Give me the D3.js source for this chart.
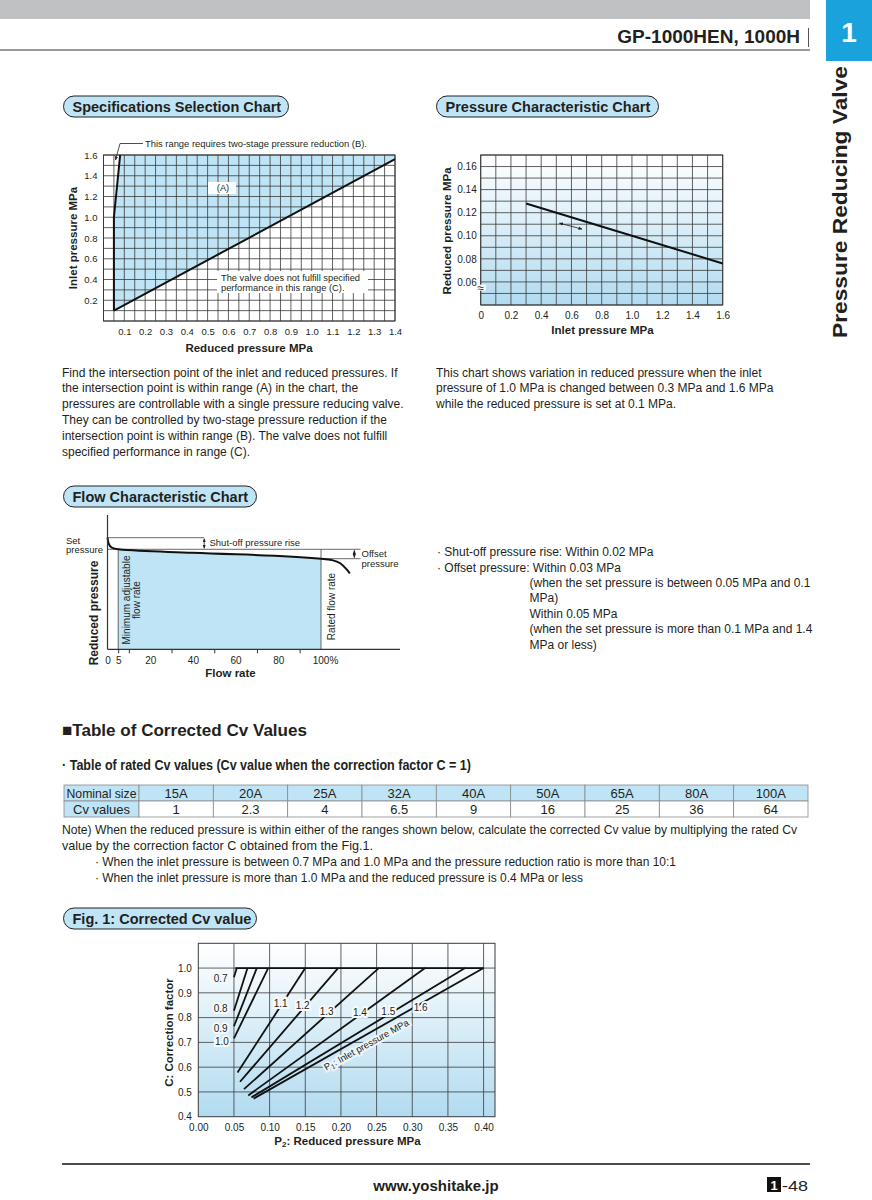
<!DOCTYPE html>
<html>
<head>
<meta charset="utf-8">
<script src="https://cdn.jsdelivr.net/npm/d3@7"></script>
<style>
  body { margin: 0; background: #fff; }
  svg { display: block; }
</style>
</head>
<body>
<div id="page"></div>
<script>
// ---- data ----

// Specifications Selection Chart (reduced pressure, inlet pressure in MPa)
const selXTicks = [0.1, 0.2, 0.3, 0.4, 0.5, 0.6, 0.7, 0.8, 0.9, 1.0, 1.1, 1.2, 1.3, 1.4];
const selYTicks = [0.2, 0.4, 0.6, 0.8, 1.0, 1.2, 1.4, 1.6];
const limitC = [[0.05, 0.1], [1.4, 1.56]];              // below this line: range (C)
const limitB = [[0.05, 0.1], [0.05, 1.0], [0.08, 1.6]]; // left of this line: range (B)

// Pressure Characteristic Chart
const pcXTicks = [0, 0.2, 0.4, 0.6, 0.8, 1.0, 1.2, 1.4, 1.6];
const pcYTicks = [0.06, 0.08, 0.10, 0.12, 0.14, 0.16];
const pcInlet = [0.3, 1.0, 1.6];
const pcReduced = [0.128, 0.100, 0.076];

// Flow Characteristic Chart (flow rate %, reduced pressure relative to set pressure)
const flowTicks = [0, 5, 20, 40, 60, 80, 100];
const flowMinorTicks = [5, 10, 30, 50, 70, 90];
const flowRate = [0, 0.5, 2, 5, 40, 100, 105, 109, 112, 113.5];
const flowPressure = [1.116, 1.06, 1.016, 1.0, 0.965, 0.906, 0.893, 0.86, 0.80, 0.76];

// Table of rated Cv values
const nominalSizes = ["15A", "20A", "25A", "32A", "40A", "50A", "65A", "80A", "100A"];
const cvValues = [1, 2.3, 4, 6.5, 9, 16, 25, 36, 64];

// Fig. 1 Corrected Cv value
const fig1XTicks = [0, 0.05, 0.10, 0.15, 0.20, 0.25, 0.30, 0.35, 0.40];
const fig1YTicks = [0.4, 0.5, 0.6, 0.7, 0.8, 0.9, 1.0];
const inletP1 = [0.7, 0.8, 0.9, 1.0, 1.1, 1.2, 1.3, 1.4, 1.5, 1.6];
const p2Start = [0.050, 0.050, 0.050, 0.050, 0.055, 0.0585, 0.064, 0.070, 0.0745, 0.0775];
const cStart = [0.963, 0.828, 0.765, 0.716, 0.578, 0.541, 0.511, 0.486, 0.478, 0.473];
const p2End = [0.054, 0.069, 0.082, 0.098, 0.150, 0.196, 0.253, 0.318, 0.374, 0.400];
const labelP2 = [0.0314, 0.0314, 0.0314, 0.033, 0.1155, 0.1464, 0.180, 0.2267, 0.2664, 0.3118];
const labelC = [0.9587, 0.8348, 0.7569, 0.7028, 0.8578, 0.8481, 0.8267, 0.8215, 0.8267, 0.840];

// ---- page ----
const W = 872, H = 1200;
const FONT = '"Liberation Sans", Arial, Helvetica, sans-serif';
const NARROW = '"Liberation Sans Narrow", "Arial Narrow", "Liberation Sans", sans-serif';
const INK = "#231f20";
const BLUE = "#bfe4f6";
const GRID = "#3a3a3a";

const svg = d3.select("#page").append("svg")
    .attr("width", W)
    .attr("height", H)
    .attr("font-family", FONT);

const defs = svg.append("defs");
const fade = defs.append("linearGradient").attr("id", "fade")
    .attr("x1", 0).attr("y1", 0).attr("x2", 0).attr("y2", 1);
fade.append("stop").attr("offset", "0%").attr("stop-color", "#ffffff");
fade.append("stop").attr("offset", "100%").attr("stop-color", "#b2dbf0");
defs.append("marker").attr("id", "arr")
    .attr("viewBox", "0 0 10 10").attr("refX", 9).attr("refY", 5)
    .attr("markerWidth", 5).attr("markerHeight", 5)
    .attr("orient", "auto-start-reverse")
    .append("path").attr("d", "M0,1L10,5L0,9Z").attr("fill", INK);

function txt(x, y, s, size, o = {}) {
    const t = svg.append("text")
        .attr("x", x).attr("y", y)
        .attr("font-size", size)
        .attr("fill", o.fill || INK)
        .attr("font-weight", o.bold ? "bold" : null)
        .attr("text-anchor", o.anchor || "start")
        .attr("font-family", o.font || FONT)
        .text(s);
    if (o.rotate) t.attr("transform", `rotate(${o.rotate},${x},${y})`);
    // condensed catalogue type: squeeze the line to the width it has on the page
    if (o.len) t.attr("textLength", o.len).attr("lengthAdjust", "spacingAndGlyphs");
    return t;
}

function pill(x, y, w, label) {
    svg.append("rect").attr("x", x).attr("y", y).attr("width", w).attr("height", 21)
        .attr("rx", 10.5).attr("fill", BLUE).attr("stroke", "#222").attr("stroke-width", 1);
    txt(x + 9, y + 15.5, label, 14.5, { bold: true });
}

function styleAxis(g, size) {
    g.select(".domain").remove();
    g.attr("font-family", FONT).attr("font-size", size);
    g.selectAll("text").attr("fill", INK);
}

function grid(g, x, y, xs, ys) {
    g.selectAll(null).data(xs).join("line")
        .attr("x1", d => x(d)).attr("x2", d => x(d))
        .attr("y1", y.range()[0]).attr("y2", y.range()[1])
        .attr("stroke", GRID).attr("stroke-width", 0.8);
    g.selectAll(null).data(ys).join("line")
        .attr("y1", d => y(d)).attr("y2", d => y(d))
        .attr("x1", x.range()[0]).attr("x2", x.range()[1])
        .attr("stroke", GRID).attr("stroke-width", 0.8);
}

// header
svg.append("rect").attr("x", 0).attr("y", 0).attr("width", 810).attr("height", 19).attr("fill", "#c0c1c3");
svg.append("line").attr("x1", 0).attr("x2", 810).attr("y1", 50).attr("y2", 50).attr("stroke", "#333").attr("stroke-width", 1);
txt(800, 43, "GP-1000HEN, 1000H", 19, { bold: true, anchor: "end" });
svg.append("line").attr("x1", 808.5).attr("x2", 808.5).attr("y1", 28).attr("y2", 47).attr("stroke", "#555").attr("stroke-width", 1);
svg.append("rect").attr("x", 826).attr("y", 0).attr("width", 46).attr("height", 61).attr("fill", "#1aa2dc");
txt(849, 42, "1", 28, { bold: true, anchor: "middle", fill: "#fff" });
txt(847, 338, "Pressure Reducing Valve", 19.5, { bold: true, rotate: -90, len: 272 });

// ================= Specifications Selection Chart =================
pill(63.5, 96, 225, "Specifications Selection Chart");
const sx = d3.scaleLinear().domain([0, 1.4]).range([103.5, 395]);
const sy = d3.scaleLinear().domain([0, 1.6]).range([321, 155]);
const sLine = d3.line().x(d => sx(d[0])).y(d => sy(d[1]));
const sel = svg.append("g");
const rangeA = [limitC[0], limitC[1], [1.4, 1.6], limitB[2], limitB[1]];
sel.append("path").datum(rangeA).attr("d", sLine).attr("fill", BLUE);
grid(sel, sx, sy, d3.range(0, 29).map(i => i * 0.05), d3.range(0, 17).map(i => i * 0.1));
sel.append("rect").attr("x", sx(0)).attr("y", sy(1.6)).attr("width", sx(1.4) - sx(0)).attr("height", sy(0) - sy(1.6))
    .attr("fill", "none").attr("stroke", GRID).attr("stroke-width", 1);
sel.append("path").datum(limitC).attr("d", sLine).attr("fill", "none").attr("stroke", "#111").attr("stroke-width", 2);
sel.append("path").datum(limitB).attr("d", sLine).attr("fill", "none").attr("stroke", "#111").attr("stroke-width", 2);
// labels on white boxes
sel.append("rect").attr("x", 208).attr("y", 182).attr("width", 28).attr("height", 12).attr("fill", "#fff");
txt(223, 191, "(A)", 9.3, { anchor: "middle" });
sel.append("rect").attr("x", 217).attr("y", 271).attr("width", 151).attr("height", 22).attr("fill", "#fff");
txt(221, 281, "The valve does not fulfill specified", 9.3);
txt(221, 290.5, "performance in this range (C).", 9.3);
// (B) annotation
svg.append("path").attr("d", "M143,143.5H120L115.5,160").attr("fill", "none")
    .attr("stroke", INK).attr("stroke-width", 0.8).attr("marker-end", "url(#arr)");
txt(145, 147, "This range requires two-stage pressure reduction (B).", 9.4);
svg.append("g").attr("transform", `translate(0,${sy(0)})`)
    .call(d3.axisBottom(sx).tickValues(selXTicks).tickSize(0).tickPadding(7).tickFormat(d3.format(".1f")))
    .call(g => styleAxis(g, 9.5));
svg.append("g").attr("transform", `translate(${sx(0)},0)`)
    .call(d3.axisLeft(sy).tickValues(selYTicks).tickSize(0).tickPadding(6).tickFormat(d3.format(".1f")))
    .call(g => styleAxis(g, 9.5));
txt(249, 352, "Reduced pressure MPa", 11.5, { bold: true, anchor: "middle" });
txt(77, 238, "Inlet pressure MPa", 11.5, { bold: true, anchor: "middle", rotate: -90 });

// ================= Pressure Characteristic Chart =================
pill(436.5, 96, 222, "Pressure Characteristic Chart");
const px = d3.scaleLinear().domain([0, 1.6]).range([480.7, 722.7]);
const py = d3.scaleLinear().domain([0.04, 0.17]).range([305, 155]);
const pc = svg.append("g");
pc.append("rect").attr("x", px(0)).attr("y", py(0.17)).attr("width", px(1.6) - px(0)).attr("height", py(0.04) - py(0.17))
    .attr("fill", "url(#fade)");
grid(pc, px, py, d3.range(0, 17).map(i => i * 0.1), d3.range(0, 14).map(i => 0.04 + i * 0.01));
pc.append("rect").attr("x", px(0)).attr("y", py(0.17)).attr("width", px(1.6) - px(0)).attr("height", py(0.04) - py(0.17))
    .attr("fill", "none").attr("stroke", GRID).attr("stroke-width", 1);
pc.append("path").datum(pcInlet.map((d, i) => [d, pcReduced[i]]))
    .attr("d", d3.line().x(d => px(d[0])).y(d => py(d[1])))
    .attr("fill", "none").attr("stroke", "#111").attr("stroke-width", 2);
pc.append("line").attr("x1", px(0.52)).attr("y1", py(0.1109)).attr("x2", px(0.67)).attr("y2", py(0.1058))
    .attr("stroke", INK).attr("stroke-width", 0.8)
    .attr("marker-start", "url(#arr)").attr("marker-end", "url(#arr)");
pc.append("rect").attr("x", px(0) - 5).attr("y", py(0.055) - 3).attr("width", 10).attr("height", 6).attr("fill", "#fff");
txt(px(0), py(0.055) + 4, "≈", 12, { anchor: "middle" });
svg.append("g").attr("transform", `translate(0,${py(0.04)})`)
    .call(d3.axisBottom(px).tickValues(pcXTicks).tickSize(0).tickPadding(7).tickFormat(d => d === 0 ? "0" : d3.format(".1f")(d)))
    .call(g => styleAxis(g, 10));
svg.append("g").attr("transform", `translate(${px(0)},0)`)
    .call(d3.axisLeft(py).tickValues(pcYTicks).tickSize(0).tickPadding(4).tickFormat(d3.format(".2f")))
    .call(g => styleAxis(g, 10));
txt(602.5, 333.5, "Inlet pressure MPa", 11.5, { bold: true, anchor: "middle" });
txt(451, 231, "Reduced pressure MPa", 11.5, { bold: true, anchor: "middle", rotate: -90 });

// paragraphs under the two charts
const para1 = [
    "Find the intersection point of the inlet and reduced pressures. If",
    "the intersection point is within range (A) in the chart, the",
    "pressures are controllable with a single pressure reducing valve.",
    "They can be controlled by two-stage pressure reduction if the",
    "intersection point is within range (B). The valve does not fulfill",
    "specified performance in range (C)."
];
para1.forEach((s, i) => txt(62, 376.5 + i * 15.8, s, 12));
const para2 = [
    "This chart shows variation in reduced pressure when the inlet",
    "pressure of 1.0 MPa is changed between 0.3 MPa and 1.6 MPa",
    "while the reduced pressure is set at 0.1 MPa."
];
para2.forEach((s, i) => txt(436, 376.5 + i * 15.8, s, 12));

// ================= Flow Characteristic Chart =================
pill(63.5, 486, 193, "Flow Characteristic Chart");
const fx = d3.scaleLinear().domain([0, 137]).range([107.5, 400]);
const fy = d3.scaleLinear().domain([0, 1.343]).range([649.3, 515]);
const fl = svg.append("g");
const flowPts = flowRate.map((d, i) => [d, flowPressure[i]]);
fl.append("path").datum(flowPts.filter(d => d[0] >= 5 && d[0] <= 100))
    .attr("d", d3.area().x(d => fx(d[0])).y0(fy(0)).y1(d => fy(d[1])))
    .attr("fill", BLUE);
function hline(v, a, b) {
    fl.append("line").attr("x1", fx(a)).attr("x2", fx(b)).attr("y1", fy(v)).attr("y2", fy(v))
        .attr("stroke", "#444").attr("stroke-width", 0.8);
}
function vline(v, a, b) {
    fl.append("line").attr("x1", fx(v)).attr("x2", fx(v)).attr("y1", fy(a)).attr("y2", fy(b))
        .attr("stroke", "#444").attr("stroke-width", 0.8);
}
hline(flowPressure[0], 0, 45.3);
hline(1.0, 0, 118.5);
hline(0.906, 100, 118.5);
vline(5, 0, 1.0);
vline(100, 0, 1.0);
fl.append("path").datum(flowPts)
    .attr("d", d3.line().x(d => fx(d[0])).y(d => fy(d[1])).curve(d3.curveMonotoneX))
    .attr("fill", "none").attr("stroke", "#111").attr("stroke-width", 2);
// axes lines
fl.append("line").attr("x1", fx(0)).attr("x2", fx(0)).attr("y1", fy(1.343)).attr("y2", fy(0)).attr("stroke", "#333").attr("stroke-width", 1.2);
fl.append("line").attr("x1", fx(0)).attr("x2", fx(137)).attr("y1", fy(0)).attr("y2", fy(0)).attr("stroke", "#333").attr("stroke-width", 1.2);
// dimension arrows
fl.append("line").attr("x1", fx(45.3)).attr("x2", fx(45.3)).attr("y1", fy(flowPressure[0]) + 1).attr("y2", fy(1.0) - 1)
    .attr("stroke", INK).attr("stroke-width", 0.8).attr("marker-start", "url(#arr)").attr("marker-end", "url(#arr)");
fl.append("line").attr("x1", fx(115.6)).attr("x2", fx(115.6)).attr("y1", fy(1.0) + 1).attr("y2", fy(0.906) - 1)
    .attr("stroke", INK).attr("stroke-width", 0.8).attr("marker-start", "url(#arr)").attr("marker-end", "url(#arr)");
txt(209.5, 546, "Shut-off pressure rise", 9.5);
txt(361.5, 557, "Offset", 9.5);
txt(361.5, 566.5, "pressure", 9.5);
txt(66, 543.5, "Set", 9.5);
txt(66, 553, "pressure", 9.5);
txt(130, 600, "Minimum adjustable", 10, { anchor: "middle", rotate: -90 });
txt(139.5, 600, "flow rate", 10, { anchor: "middle", rotate: -90 });
txt(334.5, 606.5, "Rated flow rate", 10, { anchor: "middle", rotate: -90 });
svg.append("g").attr("transform", `translate(0,${fy(0)})`)
    .call(d3.axisBottom(fx).tickValues(flowMinorTicks).tickSize(4).tickFormat(""))
    .call(g => { g.select(".domain").remove(); g.selectAll("line").attr("stroke", "#333"); });
svg.append("g").attr("transform", `translate(0,${fy(0)})`)
    .call(d3.axisBottom(fx).tickValues(flowTicks).tickSize(0).tickPadding(8).tickFormat(d => d === 100 ? "100%" : d))
    .call(g => styleAxis(g, 10))
    .call(g => g.selectAll(".tick").filter(d => d === 100).select("text").attr("dx", 4));
txt(230.5, 677, "Flow rate", 11.5, { bold: true, anchor: "middle" });
txt(98, 613, "Reduced pressure", 12, { bold: true, anchor: "middle", rotate: -90 });

// notes to the right of the flow chart
txt(437, 556, "· Shut-off pressure rise: Within 0.02 MPa", 12);
txt(437, 571.5, "· Offset pressure: Within 0.03 MPa", 12);
const offsetNotes = [
    "(when the set pressure is between 0.05 MPa and 0.1",
    "MPa)",
    "Within 0.05 MPa",
    "(when the set pressure is more than 0.1 MPa and 1.4",
    "MPa or less)"
];
offsetNotes.forEach((s, i) => txt(529.5, 587 + i * 15.4, s, 12));

// ================= Table of Corrected Cv Values =================
txt(62, 736, "■Table of Corrected Cv Values", 17, { bold: true, font: NARROW, len: 245 });
txt(62, 770, "· Table of rated Cv values (Cv value when the correction factor C = 1)", 14, { bold: true, font: NARROW, len: 409 });
const tx0 = 64, tx1 = 139, tRight = 808, ty0 = 785, rowH = 16;
const colW = (tRight - tx1) / nominalSizes.length;
const tableRows = [["Nominal size", ...nominalSizes], ["Cv values", ...cvValues]];
const cells = tableRows.flatMap((row, r) => row.map((v, c) => ({ r, c, v })));
const tg = svg.append("g");
tg.selectAll("rect").data(cells).join("rect")
    .attr("x", d => d.c === 0 ? tx0 : tx1 + (d.c - 1) * colW)
    .attr("y", d => ty0 + d.r * rowH)
    .attr("width", d => d.c === 0 ? tx1 - tx0 : colW)
    .attr("height", rowH)
    .attr("fill", d => (d.r === 0 || d.c === 0) ? BLUE : "#fff")
    .attr("stroke", "#8a8a8a").attr("stroke-width", 0.8);
tg.selectAll("text").data(cells).join("text")
    .attr("x", d => d.c === 0 ? (tx0 + tx1) / 2 : tx1 + (d.c - 0.5) * colW)
    .attr("y", d => ty0 + d.r * rowH + 12.5)
    .attr("text-anchor", "middle")
    .attr("font-family", NARROW).attr("font-size", 13).attr("fill", INK)
    .attr("textLength", d => d.c === 0 ? (d.r === 0 ? 70 : 57) : null)
    .attr("lengthAdjust", "spacingAndGlyphs")
    .text(d => d.v);
txt(62, 834, "Note) When the reduced pressure is within either of the ranges shown below, calculate the corrected Cv value by multiplying the rated Cv", 13, { font: NARROW, len: 735 });
txt(62, 850, "value by the correction factor C obtained from the Fig.1.", 13, { font: NARROW, len: 311 });
txt(95, 866, "· When the inlet pressure is between 0.7 MPa and 1.0 MPa and the pressure reduction ratio is more than 10:1", 13, { font: NARROW, len: 581 });
txt(95, 882, "· When the inlet pressure is more than 1.0 MPa and the reduced pressure is 0.4 MPa or less", 13, { font: NARROW, len: 488 });

// ================= Fig. 1 =================
pill(63.5, 908, 193, "Fig. 1: Corrected Cv value");
const cx = d3.scaleLinear().domain([0, 0.416]).range([198.3, 495]);
const cy = d3.scaleLinear().domain([0.4, 1.1]).range([1116.7, 943.3]);
const f1 = svg.append("g");
f1.append("rect").attr("x", cx(0)).attr("y", cy(1.1)).attr("width", cx(0.416) - cx(0)).attr("height", cy(0.4) - cy(1.1))
    .attr("fill", "url(#fade)");
grid(f1, cx, cy, fig1XTicks.slice(1), [0.5, 0.6, 0.7, 0.8, 0.9, 1.0]);
f1.append("rect").attr("x", cx(0)).attr("y", cy(1.1)).attr("width", cx(0.416) - cx(0)).attr("height", cy(0.4) - cy(1.1))
    .attr("fill", "none").attr("stroke", GRID).attr("stroke-width", 1);
const curves = inletP1.map((p, i) => ({ p, pts: [[p2Start[i], cStart[i]], [p2End[i], 1.0]] }));
const cLine = d3.line().x(d => cx(d[0])).y(d => cy(d[1]));
f1.selectAll(".cv").data(curves).join("path")
    .attr("d", d => cLine(d.pts))
    .attr("fill", "none").attr("stroke", "#111").attr("stroke-width", 1.8);
f1.append("path").datum([[p2Start[0] + 0.002, 1.0], [p2End[p2End.length - 1], 1.0]]).attr("d", cLine)
    .attr("fill", "none").attr("stroke", "#111").attr("stroke-width", 1.8);
f1.selectAll(".lbl").data(inletP1).join("text")
    .attr("x", (d, i) => cx(labelP2[i]))
    .attr("y", (d, i) => cy(labelC[i]) + 3.5)
    .attr("text-anchor", "middle").attr("font-size", 10).attr("fill", INK)
    .attr("stroke", "#f4fafd").attr("stroke-width", 4).attr("paint-order", "stroke")
    .text(d => d3.format(".1f")(d));
const p1 = f1.append("text").attr("transform", `translate(${cx(0.2379)},${cy(0.6784)}) rotate(-29)`)
    .attr("text-anchor", "middle").attr("font-size", 9.5).attr("fill", INK)
    .attr("stroke", "#eaf5fb").attr("stroke-width", 4).attr("paint-order", "stroke");
p1.append("tspan").text("P");
p1.append("tspan").attr("font-size", 7).attr("dy", 2).text("1");
p1.append("tspan").attr("dy", -2).text(": Inlet pressure MPa");
svg.append("g").attr("transform", `translate(0,${cy(0.4)})`)
    .call(d3.axisBottom(cx).tickValues(fig1XTicks).tickSize(0).tickPadding(7.5).tickFormat(d3.format(".2f")))
    .call(g => styleAxis(g, 10));
svg.append("g").attr("transform", `translate(${cx(0)},0)`)
    .call(d3.axisLeft(cy).tickValues(fig1YTicks).tickSize(0).tickPadding(6.5).tickFormat(d3.format(".1f")))
    .call(g => styleAxis(g, 10));
const xt = svg.append("text").attr("x", 347.5).attr("y", 1145).attr("text-anchor", "middle")
    .attr("font-size", 11.5).attr("font-weight", "bold").attr("fill", INK);
xt.append("tspan").text("P");
xt.append("tspan").attr("font-size", 8).attr("dy", 2).text("2");
xt.append("tspan").attr("dy", -2).text(": Reduced pressure MPa");
txt(173, 1032.5, "C: Correction factor", 11.5, { bold: true, anchor: "middle", rotate: -90 });

// footer
svg.append("line").attr("x1", 62).attr("x2", 810).attr("y1", 1164).attr("y2", 1164).attr("stroke", "#111").attr("stroke-width", 1.5);
txt(436, 1191, "www.yoshitake.jp", 15, { bold: true, anchor: "middle" });
svg.append("rect").attr("x", 767).attr("y", 1177).attr("width", 14).attr("height", 15).attr("fill", "#111");
txt(774, 1190, "1", 13, { bold: true, anchor: "middle", fill: "#fff" });
txt(782, 1191, "-48", 15, { font: NARROW, len: 26 });
</script>
</body>
</html>
